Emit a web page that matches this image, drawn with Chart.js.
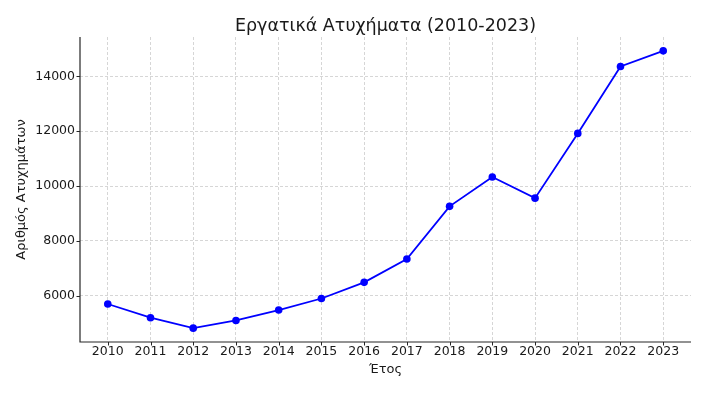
<!DOCTYPE html>
<html>
<head>
<meta charset="utf-8">
<script src="https://cdn.jsdelivr.net/npm/chart.js@4/dist/chart.umd.min.js"></script>
<style>
  html, body { margin: 0; padding: 0; background: #fff; }
  #wrap { width: 710px; height: 399px; }
</style>
</head>
<body>
<div id="wrap"><canvas id="accidentsChart" width="710" height="399"></canvas></div>
<script>
  const years = [2010, 2011, 2012, 2013, 2014, 2015, 2016, 2017, 2018, 2019, 2020, 2021, 2022, 2023];
  const accidents = [5700, 5200, 4820, 5100, 5480, 5900, 6490, 7340, 9260, 10330, 9560, 11920, 14360, 14930];
  const yTicks = [6000, 8000, 10000, 12000, 14000];

  const titleText = "Εργατικά Ατυχήματα (2010-2023)";
  const xLabel = "Έτος";
  const yLabel = "Αριθμός Ατυχημάτων";

  const fontFamily = "'DejaVu Sans', sans-serif";
  const textColor = "#1a1a1a";
  const gridColor = "#cccccc";

  // matplotlib-like 5% margins
  const xPad = (years[years.length - 1] - years[0]) * 0.05;
  const yMin = Math.min(...accidents);
  const yMax = Math.max(...accidents);
  const yPad = (yMax - yMin) * 0.05;

  // title centred over the plot area, left + bottom spines, outward tick marks
  const frame = {
    id: "frame",
    afterDraw(chart) {
      const { ctx, chartArea, scales } = chart;
      ctx.save();
      ctx.strokeStyle = "#262626";
      ctx.lineWidth = 1.2;
      ctx.beginPath();
      ctx.moveTo(chartArea.left, chartArea.top);
      ctx.lineTo(chartArea.left, chartArea.bottom);
      ctx.lineTo(chartArea.right, chartArea.bottom);
      ctx.stroke();

      ctx.lineWidth = 1;
      ctx.beginPath();
      scales.x.ticks.forEach((t) => {
        const px = Math.round(scales.x.getPixelForValue(t.value)) + 0.5;
        ctx.moveTo(px, chartArea.bottom);
        ctx.lineTo(px, chartArea.bottom + 3.5);
      });
      scales.y.ticks.forEach((t) => {
        const py = Math.round(scales.y.getPixelForValue(t.value)) + 0.5;
        ctx.moveTo(chartArea.left, py);
        ctx.lineTo(chartArea.left - 3.5, py);
      });
      ctx.stroke();

      ctx.fillStyle = textColor;
      ctx.font = `17.5px ${fontFamily}`;
      ctx.textAlign = "center";
      ctx.textBaseline = "middle";
      ctx.fillText(titleText, (chartArea.left + chartArea.right) / 2, 26);
      ctx.restore();
    },
  };

  new Chart(document.getElementById("accidentsChart"), {
    type: "line",
    data: {
      datasets: [
        {
          data: years.map((y, i) => ({ x: y, y: accidents[i] })),
          borderColor: "#0000ff",
          backgroundColor: "#0000ff",
          borderWidth: 1.8,
          pointRadius: 3.8,
          pointBorderWidth: 0,
          tension: 0,
        },
      ],
    },
    options: {
      responsive: false,
      animation: false,
      layout: { padding: { left: 0, right: 19, top: 37, bottom: 0 } },
      plugins: {
        legend: { display: false },
        tooltip: { enabled: false },
        title: { display: false },
      },
      scales: {
        x: {
          type: "linear",
          min: years[0] - xPad,
          max: years[years.length - 1] + xPad,
          afterBuildTicks(axis) {
            axis.ticks = years.map((v) => ({ value: v }));
          },
          afterFit(scale) {
            scale.height = 57;
          },
          border: { display: false, dash: [3, 2] },
          grid: {
            color: gridColor,
            lineWidth: 0.8,
            drawTicks: false,
          },
          ticks: {
            color: textColor,
            font: { family: fontFamily, size: 12.5 },
            padding: 2,
            maxRotation: 0,
            autoSkip: false,
            callback: (v) => String(v),
          },
          title: {
            display: true,
            text: xLabel,
            color: textColor,
            font: { family: fontFamily, size: 13 },
            padding: { top: 0, bottom: 22 },
          },
        },
        y: {
          type: "linear",
          min: yMin - yPad,
          max: yMax + yPad,
          afterBuildTicks(axis) {
            axis.ticks = yTicks.map((v) => ({ value: v }));
          },
          afterFit(scale) {
            scale.width = 80;
          },
          border: { display: false, dash: [3, 2] },
          grid: {
            color: gridColor,
            lineWidth: 0.8,
            drawTicks: false,
          },
          ticks: {
            color: textColor,
            font: { family: fontFamily, size: 12.5 },
            padding: 5,
            callback: (v) => String(v),
          },
          title: {
            display: true,
            text: yLabel,
            color: textColor,
            font: { family: fontFamily, size: 13 },
            padding: { top: 14, bottom: 0 },
          },
        },
      },
    },
    plugins: [frame],
  });
</script>
</body>
</html>
